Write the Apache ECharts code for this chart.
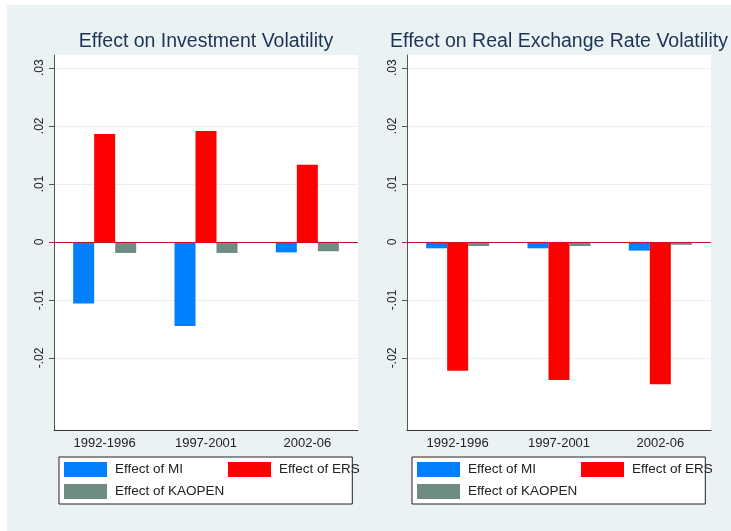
<!DOCTYPE html>
<html>
<head>
<meta charset="utf-8">
<script src="https://cdn.jsdelivr.net/npm/echarts@6/dist/echarts.min.js"></script>
<style>
  html, body { margin: 0; padding: 0; background: #ffffff; }
  #bg { position: absolute; left: 7px; top: 5px; width: 724px; height: 526px; background: #eaf2f3; }
  #main { position: absolute; left: 0; top: 0; width: 731px; height: 531px; }
</style>
</head>
<body>
<div id="bg"></div>
<div id="main"></div>
<script>
// periods on the x axis
var periods = ['1992-1996', '1997-2001', '2002-06'];
var seriesNames = ['Effect of MI', 'Effect of ERS', 'Effect of KAOPEN'];
var seriesColors = ['#0080ff', '#ff0000', '#6f8c80'];

// Effect on Investment Volatility
var invMI = [-0.0106, -0.0145, -0.0018];
var invERS = [0.0186, 0.0191, 0.0133];
var invKAOPEN = [-0.0019, -0.0019, -0.0016];

// Effect on Real Exchange Rate Volatility
var rerMI = [-0.0011, -0.0011, -0.0015];
var rerERS = [-0.0222, -0.0238, -0.0245];
var rerKAOPEN = [-0.0007, -0.0007, -0.0005];

// y ticks
var yTicks = [-0.02, -0.01, 0, 0.01, 0.02, 0.03];

var titles = ['Effect on Investment Volatility', 'Effect on Real Exchange Rate Volatility'];

function fmtTick(v) {
    var s = v.toFixed(2);
    if (s === '0.00' || s === '-0.00') return '0';
    return s.replace('0.', '.');
}

var panelLeft = [54, 407];

function makeBars(name, data, idx, color, withZero) {
    var s = {
        name: name,
        type: 'bar',
        xAxisIndex: idx,
        yAxisIndex: idx,
        data: data,
        barWidth: 21,
        barGap: '0%',
        itemStyle: { color: color },
        animation: false
    };
    if (withZero) {
        // red zero line
        s.markLine = {
            silent: true,
            symbol: ['none', 'none'],
            label: { show: false },
            lineStyle: { color: '#cc1133', width: 1, type: 'solid' },
            data: [{ yAxis: 0 }]
        };
    }
    return s;
}

var legendText = { color: '#222222', fontSize: 13.5, padding: [0, 0, 0, 3], fontFamily: 'Liberation Sans, Arial' };

var myChart = echarts.init(document.getElementById('main'));

var grids = [], xAxes = [], yAxes = [], legends = [], titleList = [];
for (var i = 0; i < 2; i++) {
    grids.push({
        left: panelLeft[i], top: 55, width: 304, height: 375,
        show: true, backgroundColor: '#ffffff', borderWidth: 0
    });
    xAxes.push({
        type: 'category',
        gridIndex: i,
        data: periods,
        axisLine: { onZero: false, lineStyle: { color: '#333333', width: 1 } },
        axisTick: { show: false },
        axisLabel: { color: '#222222', fontSize: 13, margin: 7, fontFamily: 'Liberation Sans, Arial' }
    });
    yAxes.push({
        type: 'value',
        gridIndex: i,
        min: -0.0324,
        max: 0.0322,
        axisLine: { show: true, lineStyle: { color: '#555555', width: 1 } },
        axisTick: { show: true, length: 5, customValues: yTicks, lineStyle: { color: '#555555' } },
        axisLabel: {
            customValues: yTicks,
            rotate: 90,
            margin: 8,
            color: '#222222',
            fontSize: 12,
            fontFamily: 'Liberation Sans, Arial',
            formatter: fmtTick
        },
        splitLine: { show: true, lineStyle: { color: '#eaf0f2', width: 1 } }
    });
    titleList.push({
        text: titles[i],
        left: panelLeft[i] + 152,
        textAlign: 'center',
        top: 32,
        padding: 0,
        textStyle: { color: '#1c3358', fontSize: 19.5, fontWeight: 'normal', fontFamily: 'Liberation Sans, Arial' }
    });
    // first column (MI, KAOPEN) carries the white framed box
    legends.push({
        left: panelLeft[i] + 5,
        top: 457,
        orient: 'vertical',
        padding: [5, 128, 5, 5],
        itemGap: 7,
        itemWidth: 43,
        itemHeight: 15,
        icon: 'rect',
        backgroundColor: '#ffffff',
        borderColor: '#222222',
        borderWidth: 1,
        borderRadius: 0,
        textStyle: legendText,
        data: [seriesNames[0], seriesNames[2]]
    });
    // second column (ERS)
    legends.push({
        left: panelLeft[i] + 169,
        top: 457,
        orient: 'vertical',
        padding: 5,
        itemWidth: 43,
        itemHeight: 15,
        icon: 'rect',
        z: 5,
        textStyle: legendText,
        data: [seriesNames[1]]
    });
}

var allSeries = [
    makeBars(seriesNames[0], invMI, 0, seriesColors[0], true),
    makeBars(seriesNames[1], invERS, 0, seriesColors[1], false),
    makeBars(seriesNames[2], invKAOPEN, 0, seriesColors[2], false),
    makeBars(seriesNames[0], rerMI, 1, seriesColors[0], true),
    makeBars(seriesNames[1], rerERS, 1, seriesColors[1], false),
    makeBars(seriesNames[2], rerKAOPEN, 1, seriesColors[2], false)
];

myChart.setOption({
    animation: false,
    title: titleList,
    grid: grids,
    xAxis: xAxes,
    yAxis: yAxes,
    legend: legends,
    series: allSeries
});
</script>
</body>
</html>
